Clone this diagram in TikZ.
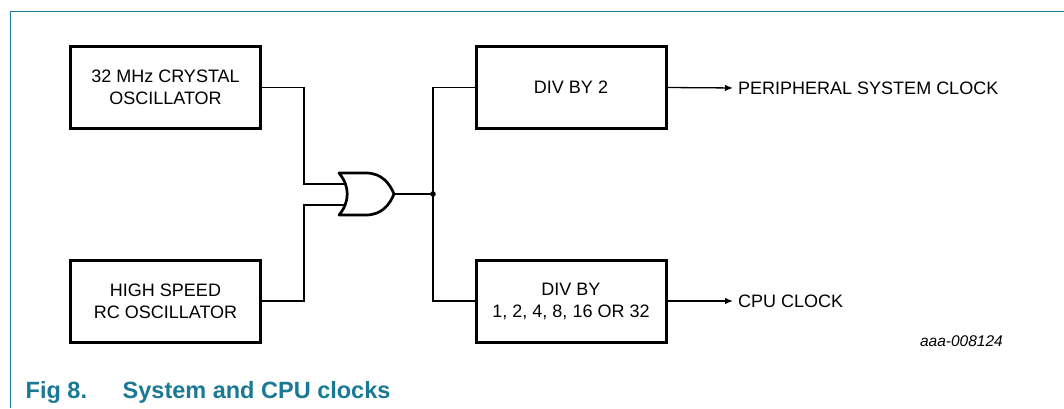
\documentclass[tikz,border=0pt]{standalone}
\usepackage{fontspec}
\setmainfont{Liberation Sans}
\usetikzlibrary{arrows.meta}
\definecolor{nxpteal}{RGB}{26,122,147}
\tikzset{
  blk/.style={draw=black, line width=3pt, minimum width=190pt, minimum height=82pt,
    inner sep=0pt, align=center, font=\fontsize{18}{22}\selectfont},
  wire/.style={draw=black, line width=1.3pt},
  gate/.style={draw=black, line width=2.7pt, fill=white, line join=round},
  outlbl/.style={anchor=west, inner sep=0pt, font=\fontsize{18}{22}\selectfont},
  arr/.style={wire, -{Latex[length=8pt,width=6.5pt]}, shorten >=5pt},
  frameline/.style={draw=nxpteal, line width=1.4pt}
}
\begin{document}
\begin{tikzpicture}[x=1pt, y=-1pt]
\useasboundingbox (0,0) rectangle (1064,408);
% frame
\coordinate (fr0) at (1064,11.7);
\coordinate (fr1) at (10.7,11.7);
\coordinate (fr2) at (10.7,408);
\draw[frameline] (fr0) -- (fr1) -- (fr2);

% blocks
\node[blk] (b1) at (165.5,87.5) {32 MHz CRYSTAL\\OSCILLATOR};
\node[blk] (b2) at (165.5,301) {HIGH SPEED\\RC OSCILLATOR};
\node[blk] (b3) at (571,87.5) {DIV BY 2};
\node[blk] (b4) at (571,301) {DIV BY\\1, 2, 4, 8, 16 OR 32};

% gate connection points
\coordinate (v1) at (304,0);
\coordinate (gin1) at (350,184);
\coordinate (gin2) at (350,205);
\coordinate (gout) at (394,194);
\coordinate (jn) at (433,194);

% input wires
\draw[wire] (b1.east) -- (b1.east -| v1) |- (gin1);
\draw[wire] (b2.east) -- (b2.east -| v1) |- (gin2);

% OR gate
\draw[gate] (339,173) -- (366,173)
  .. controls (382,173) and (390,184) .. (gout)
  .. controls (390,204) and (382,215) .. (366,215)
  -- (339,215)
  .. controls (350,202) and (350,186) .. (339,173) -- cycle;

% output and junction
\draw[wire] (gout) -- (jn);
\draw[wire] (b3.west) -| (jn) |- (b4.west);
\fill[black] (jn) circle (2.8pt);

% outputs
\node[outlbl] (t1) at (738,88) {PERIPHERAL SYSTEM CLOCK};
\node[outlbl] (t2) at (738,301) {CPU CLOCK};
\draw[arr] (b3.east) -- (t1.west);
\draw[arr] (b4.east) -- (t2.west);

% figure id
\node[anchor=base east, inner sep=0pt, font=\fontsize{15.5}{18}\selectfont\itshape] (fid) at (1003,346) {aaa-008124};

% caption
\node[anchor=base west, inner sep=0pt, text=nxpteal, font=\fontsize{23.5}{28}\selectfont\bfseries] (cap1) at (25.5,398) {Fig 8.};
\node[anchor=base west, inner sep=0pt, text=nxpteal, font=\fontsize{23.5}{28}\selectfont\bfseries] (cap2) at (122.5,398) {System and CPU clocks};
\end{tikzpicture}
\end{document}
